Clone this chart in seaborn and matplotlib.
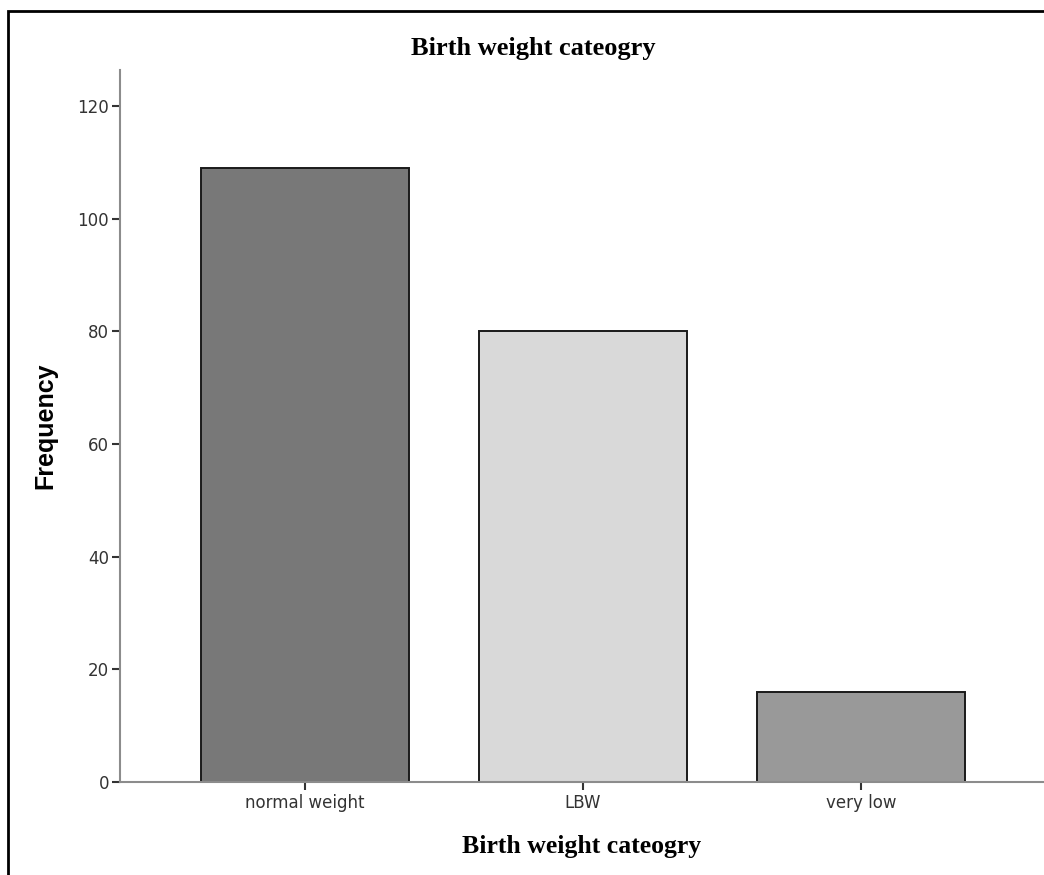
import pandas as pd
import matplotlib.pyplot as plt
import seaborn as sns
from matplotlib.patches import Rectangle

categories = ['normal weight', 'LBW', 'very low']
frequencies = [109, 80, 16]
bar_colors = ['#787878', '#d9d9d9', '#999999']

df = pd.DataFrame({'category': categories, 'frequency': frequencies})

sns.set_style('white')
plt.rcParams['font.family'] = ['DejaVu Sans']
plt.rcParams['font.sans-serif'] = ['DejaVu Sans']

fig = plt.figure(figsize=(10.44, 8.75), dpi=100)
ax = fig.add_axes([120 / 1044, 1 - 782 / 875, 1 - 120 / 1044, (782 - 70) / 875])

sns.barplot(data=df, x='category', y='frequency', hue='category',
            palette=bar_colors, width=0.748, edgecolor='#1a1a1a',
            linewidth=1.4, legend=False, ax=ax)

ax.set_xlim(-0.6655, 2.658)
ax.set_ylim(0, 126.4)
ax.set_yticks([0, 20, 40, 60, 80, 100, 120])

for side in ['top', 'right']:
    ax.spines[side].set_visible(False)
for side in ['left', 'bottom']:
    ax.spines[side].set_color('#8c8c8c')
    ax.spines[side].set_linewidth(1.5)

ax.tick_params(axis='both', which='both', direction='out', length=6, width=1.5,
               color='#333333', labelcolor='#333333', labelsize=12)
ax.tick_params(axis='x', pad=3, bottom=True)
ax.tick_params(axis='y', pad=2, left=True)

ax.set_xlabel('Birth weight cateogry', fontfamily='Liberation Serif', color='black',
              fontweight='bold', fontsize=18.5, labelpad=16)
ax.set_ylabel('Frequency', fontfamily='Liberation Sans', color='black',
              fontweight='bold', fontsize=18, labelpad=14)
fig.text(533 / 1044, 1 - 49 / 875, 'Birth weight cateogry', ha='center', va='center',
         fontfamily='Liberation Serif', fontweight='bold', fontsize=19, color='black')

# outer frame like the SPSS output window
fig.patches.append(Rectangle((8 / 1044, -0.1), 1.2, 1 - 11 / 875 + 0.1,
                             transform=fig.transFigure, fill=False,
                             edgecolor='black', linewidth=2))

fig.savefig('out.png', dpi=100)
